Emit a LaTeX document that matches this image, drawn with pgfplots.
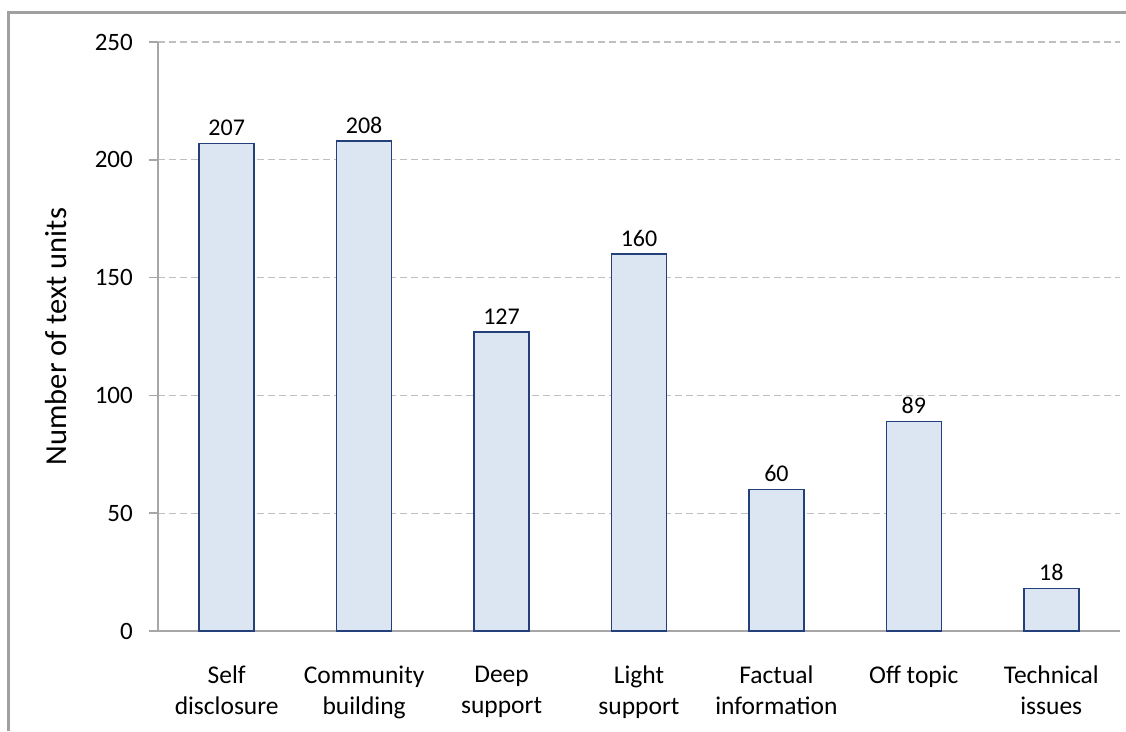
\documentclass[border=0pt]{standalone}
\usepackage{pgfplots}
\pgfplotsset{compat=1.18}
\usepackage{fontspec}
\setmainfont{Carlito}
\definecolor{barfill}{HTML}{DCE6F2}
\definecolor{baredge}{HTML}{24407A}
\definecolor{axgray}{HTML}{A6A6A6}
\definecolor{gridgray}{HTML}{BFBFBF}
\definecolor{framegray}{HTML}{A0A0A0}
\begin{document}
\fontsize{24}{30}\selectfont
\begin{tikzpicture}
\useasboundingbox (-158pt,-100pt) rectangle (968pt,631pt);
\draw[framegray, line width=3pt] (-149pt,-100pt) -- (-149pt,618pt) -- (968pt,618pt);
\begin{axis}[
  at={(0,0)}, anchor=south west,
  scale only axis,
  width=962pt, height=589pt,
  xmin=-0.5, xmax=6.5,
  ymin=0, ymax=250,
  ytick={0,50,100,150,200,250},
  xtick={0,1,2,3,4,5,6},
  xticklabels={Self\\disclosure, Community\\building, Deep\\support, Light\\support, Factual\\information, Off topic, Technical\\issues},
  axis lines*=left,
  axis line style={axgray, line width=1.5pt},
  ymajorgrids,
  grid style={gridgray, line width=1.3pt, dash pattern=on 7pt off 4pt},
  tick align=outside,
  major tick length=9pt,
  ytick style={axgray, line width=1.5pt},
  xtick style={draw=none},
  /pgf/number format/assume math mode=true,
  tick label style={font=\fontsize{25}{30}\selectfont},
  yticklabel style={anchor=east, inner sep=0pt, xshift=-16pt},
  xticklabel style={align=center, anchor=north, inner sep=0pt, yshift=-26pt, font=\fontsize{25.5}{31}\selectfont},
  ylabel={Number of text units},
  ylabel style={at={(axis description cs:-0.106,0.5)}, anchor=center, font=\fontsize{30.5}{36}\selectfont},
  nodes near coords,
  nodes near coords style={font=\fontsize{24}{28}\selectfont, anchor=south, inner sep=0pt, yshift=7pt, /pgf/number format/assume math mode=true},
  clip=false,
]
\addplot[ybar, bar width=55pt, fill=barfill, draw=baredge, line width=1.5pt]
  coordinates {(0,207) (1,208) (2,127) (3,160) (4,60) (5,89) (6,18)};
\end{axis}
\end{tikzpicture}
\end{document}
